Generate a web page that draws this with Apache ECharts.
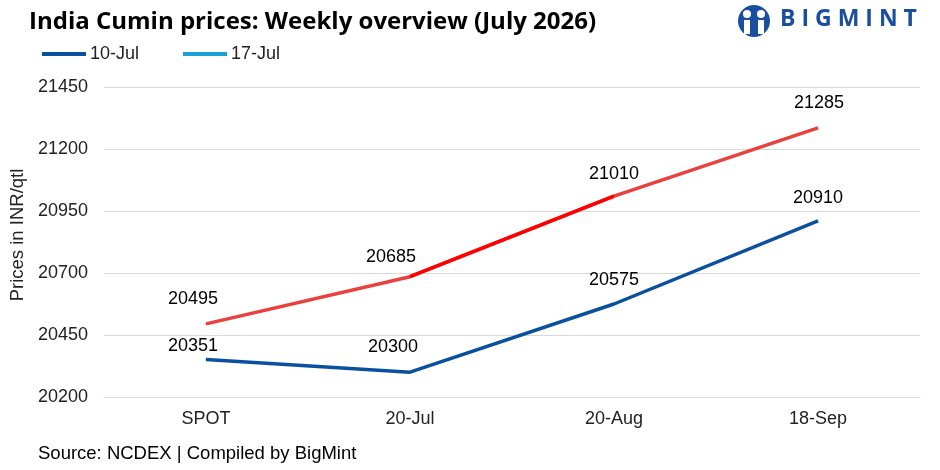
<!DOCTYPE html>
<html><head><meta charset="utf-8">
<script src="https://cdn.jsdelivr.net/npm/echarts@6/dist/echarts.min.js"></script>
<style>html,body{margin:0;padding:0;background:#fff}#c{width:940px;height:470px}</style>
</head><body><div id="c"></div>
<script>
const categories = ['SPOT', '20-Jul', '20-Aug', '18-Sep'];
const jul10 = [20351, 20300, 20575, 20910];
const jul17 = [20495, 20685, 21010, 21285];
const jul17Highlight = [null, 20685, 21010, null];
const seriesNames = ['10-Jul', '17-Jul'];
const yMin = 20200, yMax = 21450, yStep = 250;

// label placement (style only)
const labelShift17 = [[-13, -15.5], [-19, -10.5], [0, -12.5], [1, -15.5]];
const labelShift10 = [[-13, -4.5], [-17, -15.5], [0, -14.5], [0, -13.5]];

const chart = echarts.init(document.getElementById('c'), null, {renderer: 'canvas'});
const font = 'Liberation Sans, Arial, sans-serif';
const lbl = {show: true, position: 'top', distance: 0, color: '#000', fontSize: 18, fontFamily: font};
const withShift = (vals, shifts) => vals.map((v, i) => ({value: v, label: {offset: shifts[i]}}));
chart.setOption({
  animation: false,
  backgroundColor: '#fff',
  title: {
    text: 'India Cumin prices: Weekly overview (July 2026)',
    left: 24, top: 5,
    textStyle: {fontFamily: 'Open Sans', fontWeight: 'bold', fontSize: 24, color: '#000'}
  },
  legend: {
    left: 37, top: 40, itemWidth: 44, itemHeight: 4, itemGap: 44,
    icon: 'rect',
    textStyle: {fontFamily: font, fontSize: 18, color: '#222', padding: [0,0,0,-1]},
    data: [
      {name: seriesNames[0], itemStyle: {color: '#0b4f9f'}},
      {name: seriesNames[1], itemStyle: {color: '#1ba0d8'}}
    ]
  },
  grid: {left: 104, right: 20, top: 87, bottom: 73, containLabel: false, outerBoundsMode: 'none'},
  xAxis: {
    type: 'category', data: categories, boundaryGap: true,
    axisLine: {show: true, lineStyle: {color: '#d9d9d9'}},
    axisTick: {show: false},
    axisLabel: {fontFamily: font, fontSize: 18, color: '#222', margin: 13}
  },
  yAxis: {
    type: 'value', min: yMin, max: yMax, interval: yStep,
    name: 'Prices in INR/qtl', nameLocation: 'middle', nameGap: 76, nameRotate: 90,
    nameTextStyle: {fontFamily: font, fontSize: 18.5, color: '#222', padding: [0, 0, 0, 14]},
    axisLine: {show: false}, axisTick: {show: false},
    axisLabel: {fontFamily: font, fontSize: 18, color: '#222', margin: 16,
      formatter: v => String(v)},
    splitLine: {lineStyle: {color: '#d9d9d9', width: 1}}
  },
  series: [
    {name: seriesNames[1], type: 'line', data: withShift(jul17, labelShift17), symbol: 'circle', symbolSize: 1, z: 2,
     itemStyle: {color: '#e8413f'},
     lineStyle: {color: '#e8413f', width: 3.5}, label: lbl},
    {name: '_hl', type: 'line', data: jul17Highlight, symbol: 'none', z: 3,
     lineStyle: {color: '#ff0000', width: 3.5}, silent: true},
    {name: seriesNames[0], type: 'line', data: withShift(jul10, labelShift10), symbol: 'circle', symbolSize: 1, z: 4,
     itemStyle: {color: '#0b4f9f'},
     lineStyle: {color: '#0b4f9f', width: 3.5}, label: lbl}
  ],
  graphic: [
    {type: 'circle', shape: {cx: 754, cy: 21, r: 16}, style: {fill: '#1a4fa0'}},
    {type: 'circle', shape: {cx: 747, cy: 14, r: 4}, style: {fill: '#fff'}},
    {type: 'circle', shape: {cx: 761, cy: 14, r: 4}, style: {fill: '#fff'}},
    {type: 'rect', shape: {x: 744, y: 20, width: 6, height: 14}, style: {fill: '#fff'}},
    {type: 'rect', shape: {x: 758, y: 20, width: 6, height: 14}, style: {fill: '#fff'}},
    {type: 'text', left: 780, top: 8, style: {text: 'B I G M I N T', fill: '#1a4fa0', font: 'bold 23px Open Sans'}},
    {type: 'text', left: 38, top: 444, style: {text: 'Source: NCDEX | Compiled by BigMint', fill: '#000', font: '18.5px Liberation Sans, Arial, sans-serif'}}
  ]
});
</script></body></html>
